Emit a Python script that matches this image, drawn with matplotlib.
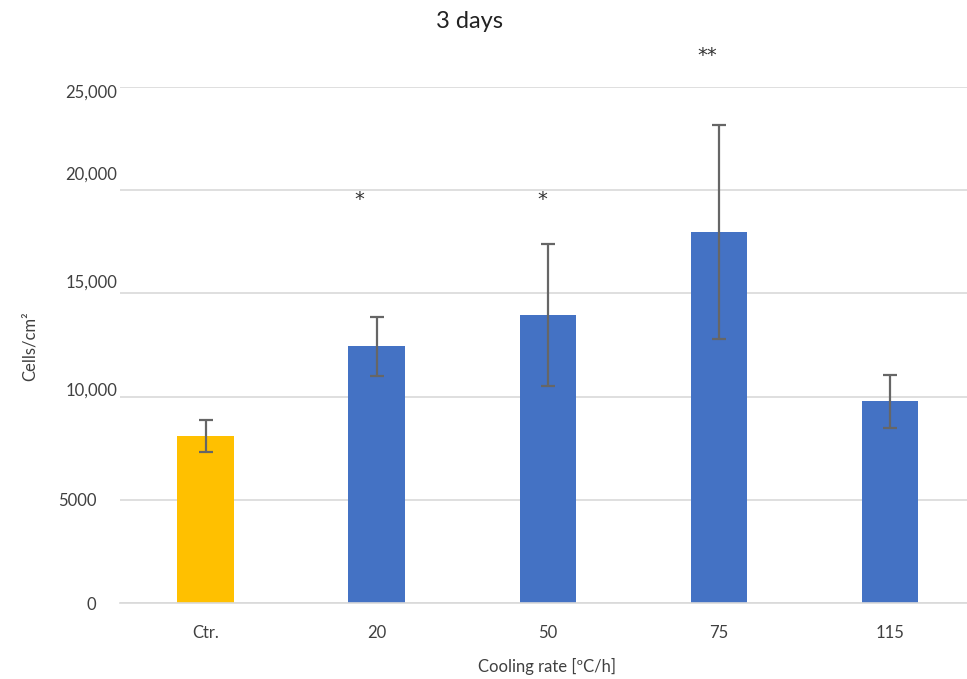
import matplotlib.pyplot as plt
from matplotlib.transforms import ScaledTranslation

# data
categories = ['Ctr.', '20', '50', '75', '115']
cells = [8100, 12450, 13950, 17980, 9780]
errors = [780, 1430, 3450, 5170, 1280]
bar_colors = ['#FFC000', '#4472C4', '#4472C4', '#4472C4', '#4472C4']

y_ticks = [0, 5000, 10000, 15000, 20000, 25000]
y_tick_labels = ['0', '5000', '10,000', '15,000', '20,000', '25,000']

# significance marks (x position, y value of the text baseline, text)
sig_x = [0.90, 1.97, 2.93]
sig_y = [19300, 19300, 26250]
sig_text = ['*', '*', '**']

plt.rcParams['font.family'] = ['Lato', 'DejaVu Sans']
text_color = '#404040'

fig = plt.figure(figsize=(9.67, 6.79), dpi=100)
ax = fig.add_axes([120 / 967, 76 / 679, 1 - 120 / 967, (603 - 87) / 679])

x = list(range(len(categories)))
ax.bar(x, cells, width=0.33, color=bar_colors, zorder=2)
ax.errorbar(x, cells, yerr=errors, fmt='none', ecolor='#666666',
            elinewidth=1.6, capsize=5, capthick=1.6, zorder=3)

for sx, sy, st in zip(sig_x, sig_y, sig_text):
    ax.text(sx, sy, st, ha='center', va='baseline', fontsize=14,
            family='DejaVu Sans', color='#333333', clip_on=False)

ax.set_xlim(-0.5, 4.45)
ax.set_ylim(0, 25000)
ax.set_xticks(x)
ax.set_xticklabels(categories)
ax.set_yticks(y_ticks)
ax.set_yticklabels(y_tick_labels)

ax.grid(axis='y', color='#D9D9D9', linewidth=1.2, zorder=0)
ax.set_axisbelow(True)
for side in ['top', 'right', 'left']:
    ax.spines[side].set_visible(False)
ax.spines['bottom'].set_color('#D9D9D9')
ax.spines['bottom'].set_linewidth(1.2)
ax.tick_params(axis='both', length=0, labelsize=12, labelcolor=text_color)
ax.tick_params(axis='x', pad=16)
ax.tick_params(axis='y', pad=2)

# the tick labels in the reference are not quite lined up with the grid
y_offsets = [(-21, 0), (-21, 0), (0, 7), (0, 12), (0, 17), (0, -4)]
for lab, (dx, dy) in zip(ax.get_yticklabels(), y_offsets):
    lab.set_transform(lab.get_transform() +
                      ScaledTranslation(dx / 100, dy / 100, fig.dpi_scale_trans))

fig.text(470 / 967, 1 - 22 / 679, '3 days', ha='center', va='center',
         fontsize=17, color='#222222')
fig.text(547 / 967, 1 - 666 / 679, 'Cooling rate [ºC/h]', ha='center',
         va='center', fontsize=12, color=text_color)
fig.text(30 / 967, 1 - 346 / 679, 'Cells/cm²', ha='center', va='center',
         rotation=90, fontsize=12, color=text_color)

fig.savefig('out.png', dpi=100)
